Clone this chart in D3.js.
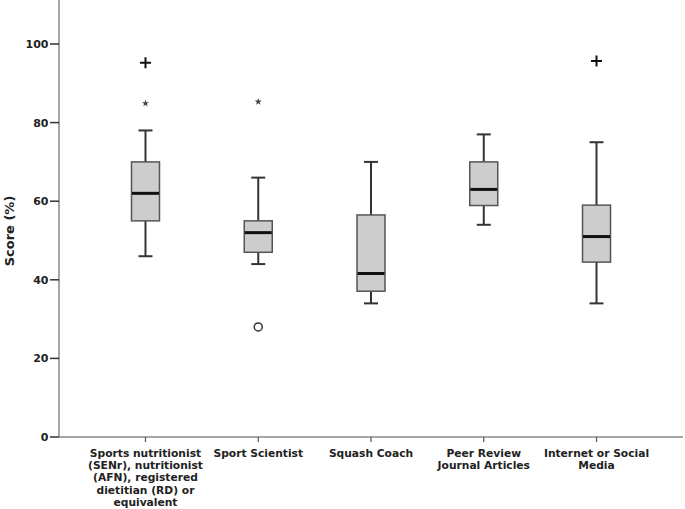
<!DOCTYPE html>
<html><head><meta charset="utf-8">
<script src="https://cdn.jsdelivr.net/npm/d3@7"></script>
<style>
body{margin:0;background:#fff;}
text{font-family:"DejaVu Sans",sans-serif;font-weight:bold;fill:#222;}
</style></head>
<body><svg id="c" width="685" height="509"></svg>
<script>
const categories = [
  ["Sports nutritionist","(SENr), nutritionist","(AFN), registered","dietitian (RD) or","equivalent"],
  ["Sport Scientist"],
  ["Squash Coach"],
  ["Peer Review","Journal Articles"],
  ["Internet or Social","Media"]
];
const whiskerLow  = [46, 44, 34, 54, 34];
const q1          = [55, 47, 37.1, 58.9, 44.5];
const median      = [62, 52, 41.6, 63, 51];
const q3          = [70, 55, 56.5, 70, 59];
const whiskerHigh = [78, 66, 70, 77, 75];
const starOutliers   = [[84.9], [85.3], [], [], []];
const plusOutliers   = [[95.2], [], [], [], [95.7]];
const circleOutliers = [[], [28], [], [], []];
const yTicks = [0, 20, 40, 60, 80, 100];

const svg = d3.select("#c");
const x = d3.scalePoint().domain(d3.range(categories.length)).range([59, 683]).padding(0.767);
const y = d3.scaleLinear().domain([0, 100]).range([437, 44]);
const yTop = 111.2;

// axes
const axisColor = "#888";
svg.append("line").attr("x1",59).attr("x2",59).attr("y1",y(yTop)).attr("y2",y(0)).attr("stroke",axisColor).attr("stroke-width",1.5);
svg.append("line").attr("x1",59).attr("x2",683).attr("y1",y(0)).attr("y2",y(0)).attr("stroke",axisColor).attr("stroke-width",1.5);

const yAxis = svg.append("g");
yTicks.forEach(t=>{
  yAxis.append("line").attr("x1",50).attr("x2",59).attr("y1",y(t)).attr("y2",y(t)).attr("stroke","#333").attr("stroke-width",1.5);
  yAxis.append("text").attr("x",48.5).attr("y",y(t)).attr("dy","0.36em").attr("text-anchor","end").attr("font-size","11px").text(t);
});
svg.append("text").attr("transform","translate(14,231) rotate(-90)").attr("text-anchor","middle").attr("font-size","13px").text("Score (%)");

// x ticks and labels
categories.forEach((lines,i)=>{
  const cx = x(i);
  svg.append("line").attr("x1",cx).attr("x2",cx).attr("y1",y(0)).attr("y2",y(0)+5).attr("stroke","#555").attr("stroke-width",1.2);
  const t = svg.append("text").attr("text-anchor","middle").attr("font-size","10.7px");
  lines.forEach((l,j)=>{
    t.append("tspan").attr("x",cx).attr("y",457 + j*12.2).text(l);
  });
});

// boxes
const boxW = 28, capW = 14;
categories.forEach((_,i)=>{
  const cx = x(i);
  const g = svg.append("g");
  g.append("line").attr("x1",cx).attr("x2",cx).attr("y1",y(whiskerHigh[i])).attr("y2",y(q3[i])).attr("stroke","#333").attr("stroke-width",2);
  g.append("line").attr("x1",cx).attr("x2",cx).attr("y1",y(q1[i])).attr("y2",y(whiskerLow[i])).attr("stroke","#333").attr("stroke-width",2);
  [whiskerHigh[i], whiskerLow[i]].forEach(v=>{
    g.append("line").attr("x1",cx-capW/2).attr("x2",cx+capW/2).attr("y1",y(v)).attr("y2",y(v)).attr("stroke","#333").attr("stroke-width",2);
  });
  g.append("rect").attr("x",cx-boxW/2).attr("width",boxW).attr("y",y(q3[i])).attr("height",y(q1[i])-y(q3[i]))
    .attr("fill","#cdcdcd").attr("stroke","#555").attr("stroke-width",1.5);
  g.append("line").attr("x1",cx-boxW/2+0.5).attr("x2",cx+boxW/2-0.5).attr("y1",y(median[i])).attr("y2",y(median[i])).attr("stroke","#111").attr("stroke-width",3);
  starOutliers[i].forEach(v=>{
    g.append("path").attr("d",d3.symbol(d3.symbolStar,16)()).attr("transform",`translate(${cx},${y(v)})`).attr("fill","#444");
  });
  plusOutliers[i].forEach(v=>{
    g.append("path").attr("d",`M${cx-5.5},${y(v)}H${cx+5.5}M${cx},${y(v)-5.5}V${y(v)+5.5}`).attr("stroke","#111").attr("stroke-width",2);
  });
  circleOutliers[i].forEach(v=>{
    g.append("circle").attr("cx",cx).attr("cy",y(v)).attr("r",4).attr("fill","none").attr("stroke","#333").attr("stroke-width",1.5);
  });
});
</script></body></html>
